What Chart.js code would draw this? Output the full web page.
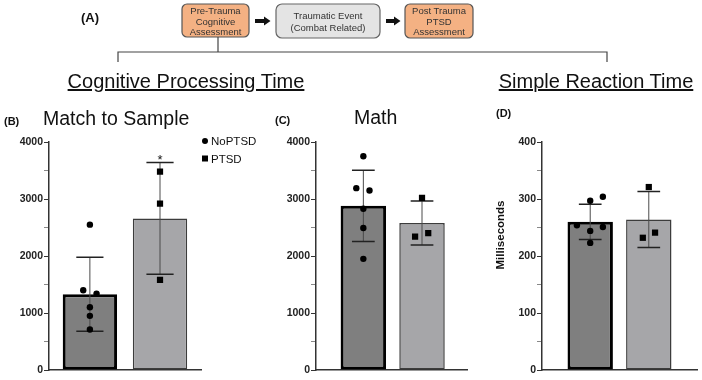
<!DOCTYPE html>
<html lang="en">
<head>
<meta charset="UTF-8">
<title>Cognitive Processing Time / Simple Reaction Time</title>
<style>
    body {
        margin: 0;
        background: #fff;
        font-family: 'Liberation Sans', Arial, sans-serif;
    }
    #figure {
        position: relative;
        width: 702px;
        height: 380px;
        overflow: hidden;
    }
    .panel {
        position: absolute;
        top: 130px;
        height: 250px;
    }
    #panelB { left: 0; width: 206px; }
    #panelC { left: 262px; width: 210px; }
    #panelD { left: 488px; width: 214px; }
    #overlay {
        position: absolute;
        left: 0;
        top: 0;
        pointer-events: none;
    }
    #overlay text { font-family: 'Liberation Sans', Arial, sans-serif; }
</style>
</head>
<body>
<div id="figure">
    <div class="panel" id="panelB"><canvas id="chartB"></canvas></div>
    <div class="panel" id="panelC"><canvas id="chartC"></canvas></div>
    <div class="panel" id="panelD"><canvas id="chartD"></canvas></div>

    <svg id="overlay" width="702" height="380">
        <!-- study design -->
        <text x="81" y="22" font-size="13" font-weight="bold" fill="#111">(A)</text>
        <rect x="182" y="4" width="67" height="33" rx="5" fill="#f4b183" stroke="#555" stroke-width="1.2"/>
        <g font-size="9.5" fill="#333" text-anchor="middle">
            <text x="215.5" y="14">Pre-Trauma</text>
            <text x="215.5" y="24.5">Cognitive</text>
            <text x="215.5" y="35">Assessment</text>
        </g>
        <path d="M255 19 H264 V16.5 L270.5 21 L264 25.5 V23 H255 Z" fill="#111"/>
        <rect x="276" y="4" width="104" height="34" rx="6" fill="#e4e4e4" stroke="#666" stroke-width="1.2"/>
        <g font-size="9.5" fill="#333" text-anchor="middle">
            <text x="328" y="18.5">Traumatic Event</text>
            <text x="328" y="30.5">(Combat Related)</text>
        </g>
        <path d="M386 19 H394 V16.5 L400.5 21 L394 25.5 V23 H386 Z" fill="#111"/>
        <rect x="405" y="4" width="68" height="34" rx="5" fill="#f4b183" stroke="#555" stroke-width="1.2"/>
        <g font-size="9.5" fill="#333" text-anchor="middle">
            <text x="439" y="14">Post Trauma</text>
            <text x="439" y="24.5">PTSD</text>
            <text x="439" y="35">Assessment</text>
        </g>
        <polyline points="118,62 118,52 607,52 607,62" fill="none" stroke="#444" stroke-width="1.2"/>
        <line x1="218" y1="37" x2="218" y2="52" stroke="#444" stroke-width="1.2"/>

        <!-- section headings -->
        <text x="186" y="88" font-size="20" text-anchor="middle" fill="#111" style="text-decoration: underline">Cognitive Processing Time</text>
        <text x="596" y="88" font-size="20" text-anchor="middle" fill="#111" style="text-decoration: underline">Simple Reaction Time</text>

        <!-- panel labels and titles -->
        <text x="4" y="125" font-size="11" font-weight="bold" fill="#111">(B)</text>
        <text x="43" y="125" font-size="19.5" fill="#111">Match to Sample</text>
        <text x="275" y="124" font-size="11" font-weight="bold" fill="#111">(C)</text>
        <text x="354" y="124" font-size="19.5" fill="#111">Math</text>
        <text x="496" y="117" font-size="11" font-weight="bold" fill="#111">(D)</text>
        <text transform="translate(504,235) rotate(-90)" font-size="11.5" font-weight="bold" text-anchor="middle" fill="#111">Milliseconds</text>

        <!-- legend -->
        <circle cx="205" cy="141" r="3" fill="#000"/>
        <text x="211" y="145" font-size="11.5" fill="#111">NoPTSD</text>
        <rect x="202" y="155.5" width="6" height="6" fill="#000"/>
        <text x="211" y="162.5" font-size="11.5" fill="#111">PTSD</text>
    </svg>
</div>

<script src="https://cdn.jsdelivr.net/npm/chart.js"></script>
<script>
    // groups
    const groups = ['NoPTSD', 'PTSD'];

    // (B) match to sample, ms
    const matchMeans = [1330, 2660];
    const matchSD = [650, 980];
    const matchNoPTSD = [2550, 1400, 1340, 1100, 950, 710];
    const matchPTSD = [3480, 2920, 1580];

    // (C) math, ms
    const mathMeans = [2880, 2580];
    const mathSD = [625, 385];
    const mathNoPTSD = [3750, 3190, 3150, 2830, 2490, 1950];
    const mathPTSD = [3020, 2340, 2400];

    // (D) simple reaction time, ms
    const reactMeans = [260, 264];
    const reactSD = [31, 49];
    const reactNoPTSD = [297, 304, 254, 251, 244, 223];
    const reactPTSD = [321, 232, 241];

    // tick labels
    const timeTicks = [0, 1000, 2000, 3000, 4000];
    const reactTicks = [0, 100, 200, 300, 400];

    Chart.defaults.font.family = "'Liberation Sans', Arial, sans-serif";
    Chart.defaults.animation = false;

    const barFill = ['#7f7f7f', '#a6a6a9'];
    const barEdge = ['#000000', '#3c3c3c'];
    const barEdgeWidth = [3, 1.5];

    function makePanel(canvasId, p) {
        // error bars (mean +/- SD) drawn right after the bars, under the points
        const errorBars = {
            id: 'errorBars',
            afterDatasetDraw(chart, args) {
                if (args.index !== 0) return;
                const ctx = chart.ctx;
                const y = chart.scales.y;
                const bars = args.meta.data;
                ctx.save();
                bars.forEach((bar, i) => {
                    const top = y.getPixelForValue(p.means[i] + p.sd[i]);
                    const bot = y.getPixelForValue(p.means[i] - p.sd[i]);
                    const half = bar.width / 4;
                    ctx.strokeStyle = '#4a4a4a';
                    ctx.lineWidth = 1;
                    ctx.beginPath();
                    ctx.moveTo(bar.x, top);
                    ctx.lineTo(bar.x, bot);
                    ctx.stroke();
                    ctx.strokeStyle = '#222';
                    ctx.lineWidth = 1.5;
                    ctx.beginPath();
                    ctx.moveTo(bar.x - half, top);
                    ctx.lineTo(bar.x + half, top);
                    ctx.moveTo(bar.x - half, bot);
                    ctx.lineTo(bar.x + half, bot);
                    ctx.stroke();
                });
                if (p.star !== undefined) {
                    const b = bars[p.star];
                    ctx.fillStyle = '#111';
                    ctx.font = "13px 'Liberation Sans', Arial, sans-serif";
                    ctx.textAlign = 'center';
                    ctx.fillText('*', b.x, y.getPixelForValue(p.means[p.star] + p.sd[p.star]) + 1);
                }
                ctx.restore();
            }
        };

        return new Chart(document.getElementById(canvasId), {
            type: 'bar',
            data: {
                datasets: [
                    {
                        label: 'mean',
                        data: p.means.map((m, i) => ({ x: i + 1, y: m })),
                        backgroundColor: barFill,
                        borderColor: barEdge,
                        borderWidth: barEdgeWidth,
                        borderSkipped: false,
                        barPercentage: 0.775,
                        categoryPercentage: 1,
                        order: 2
                    },
                    {
                        type: 'scatter',
                        label: groups[0],
                        data: p.noptsd.map((v, i) => ({ x: 1 + p.jitterNo[i], y: v })),
                        pointStyle: 'circle',
                        pointRadius: 3.2,
                        backgroundColor: '#000',
                        borderWidth: 0,
                        order: 1
                    },
                    {
                        type: 'scatter',
                        label: groups[1],
                        data: p.ptsd.map((v, i) => ({ x: 2 + p.jitterPt[i], y: v })),
                        pointStyle: 'rect',
                        pointRadius: 4.4,
                        backgroundColor: '#000',
                        borderWidth: 0,
                        order: 0
                    }
                ]
            },
            options: {
                responsive: true,
                maintainAspectRatio: false,
                layout: { padding: { top: 12, right: p.padRight, bottom: 10, left: 0 } },
                plugins: { legend: { display: false }, tooltip: { enabled: false } },
                scales: {
                    x: {
                        type: 'linear',
                        offset: false,
                        min: p.xRange[0],
                        max: p.xRange[1],
                        afterBuildTicks: s => { s.ticks = [{ value: 1 }, { value: 2 }]; },
                        ticks: { display: false },
                        grid: { display: false, drawTicks: false, offset: false },
                        border: { color: '#333', width: 1.5 },
                        afterFit: s => { s.height = 0; }
                    },
                    y: {
                        min: 0,
                        max: p.ticks[p.ticks.length - 1],
                        ticks: {
                            stepSize: p.ticks[1] / 2,
                            autoSkip: false,
                            padding: 1,
                            color: '#222',
                            font: { size: 10.5, weight: 'bold' },
                            callback: v => p.ticks.includes(v) ? v : ''
                        },
                        grid: {
                            drawOnChartArea: false,
                            drawTicks: true,
                            tickLength: 5,
                            tickColor: c => p.ticks.includes(c.tick.value) ? '#333' : '#888'
                        },
                        border: { color: '#333', width: 1.5 },
                        afterFit: s => { s.width = p.axisWidth; }
                    }
                }
            },
            plugins: [errorBars]
        });
    }

    makePanel('chartB', {
        means: matchMeans, sd: matchSD, noptsd: matchNoPTSD, ptsd: matchPTSD,
        jitterNo: [0, -0.095, 0.095, 0, 0, 0], jitterPt: [0, 0, 0],
        ticks: timeTicks, xRange: [0.417, 2.593], axisWidth: 49, padRight: 4, star: 1
    });

    makePanel('chartC', {
        means: mathMeans, sd: mathSD, noptsd: mathNoPTSD, ptsd: mathPTSD,
        jitterNo: [0, -0.12, 0.105, 0, 0, 0], jitterPt: [0, -0.118, 0.106],
        ticks: timeTicks, xRange: [0.193, 2.777], axisWidth: 54, padRight: 3
    });

    makePanel('chartD', {
        means: reactMeans, sd: reactSD, noptsd: reactNoPTSD, ptsd: reactPTSD,
        jitterNo: [0, 0.216, -0.227, 0.216, 0, 0], jitterPt: [0, -0.102, 0.107],
        ticks: reactTicks, xRange: [0.177, 2.823], axisWidth: 54, padRight: 5
    });
</script>
</body>
</html>
